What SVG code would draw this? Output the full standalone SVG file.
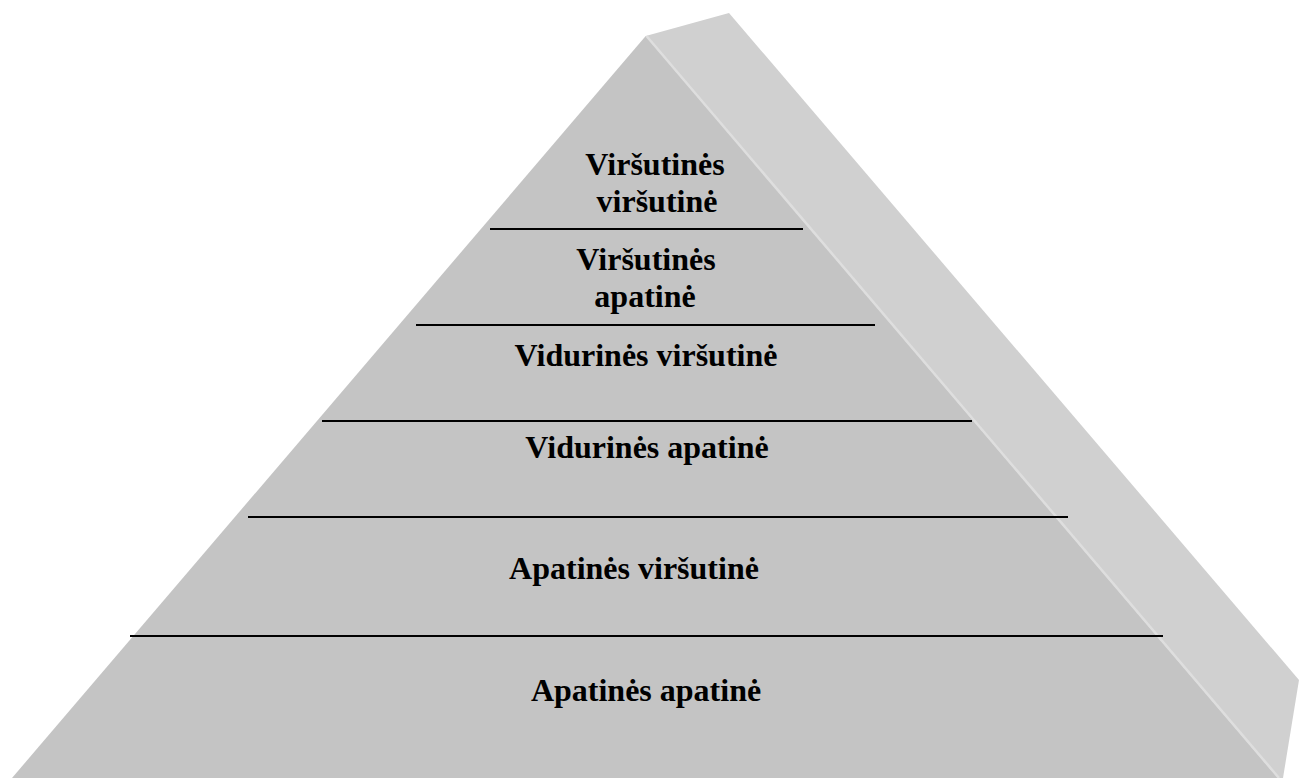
<svg xmlns="http://www.w3.org/2000/svg" width="1299" height="778" viewBox="0 0 1299 778">
  <style>
    .lbl { font-family: "Liberation Serif", "Times New Roman", serif; font-weight: bold; font-size: 32px; fill: #000; text-anchor: middle; }
    .div { stroke: #000; stroke-width: 2.2; }
  </style>
  <rect width="1299" height="778" fill="#fff"/>
  <!-- pyramid body -->
  <g id="pyramid">
    <polygon id="side-face" points="645.7,36 729,13 1299,680 1283,778 1278,778" fill="#d0d0d0"/>
    <polygon id="front-face" points="645.7,36 1278,778 12,778" fill="#c4c4c4"/>
    <line id="ridge" x1="646.5" y1="36" x2="1279" y2="778" stroke="#dedede" stroke-width="2.5"/>
  </g>
  <!-- level dividers -->
  <g id="dividers">
    <line class="div" x1="490" y1="229" x2="803" y2="229"/>
    <line class="div" x1="416" y1="325" x2="875" y2="325"/>
    <line class="div" x1="322" y1="421" x2="972" y2="421"/>
    <line class="div" x1="248" y1="517" x2="1068" y2="517"/>
    <line class="div" x1="130" y1="636" x2="1163" y2="636"/>
  </g>
  <!-- level labels -->
  <g id="level-1">
    <text class="lbl" x="655" y="175">Viršutinės</text>
    <text class="lbl" x="657" y="212">viršutinė</text>
  </g>
  <g id="level-2">
    <text class="lbl" x="646" y="270">Viršutinės</text>
    <text class="lbl" x="645" y="307">apatinė</text>
  </g>
  <g id="level-3">
    <text class="lbl" x="646" y="366">Vidurinės viršutinė</text>
  </g>
  <g id="level-4">
    <text class="lbl" x="647" y="458">Vidurinės apatinė</text>
  </g>
  <g id="level-5">
    <text class="lbl" x="634" y="579">Apatinės viršutinė</text>
  </g>
  <g id="level-6">
    <text class="lbl" x="646" y="701">Apatinės apatinė</text>
  </g>
</svg>
